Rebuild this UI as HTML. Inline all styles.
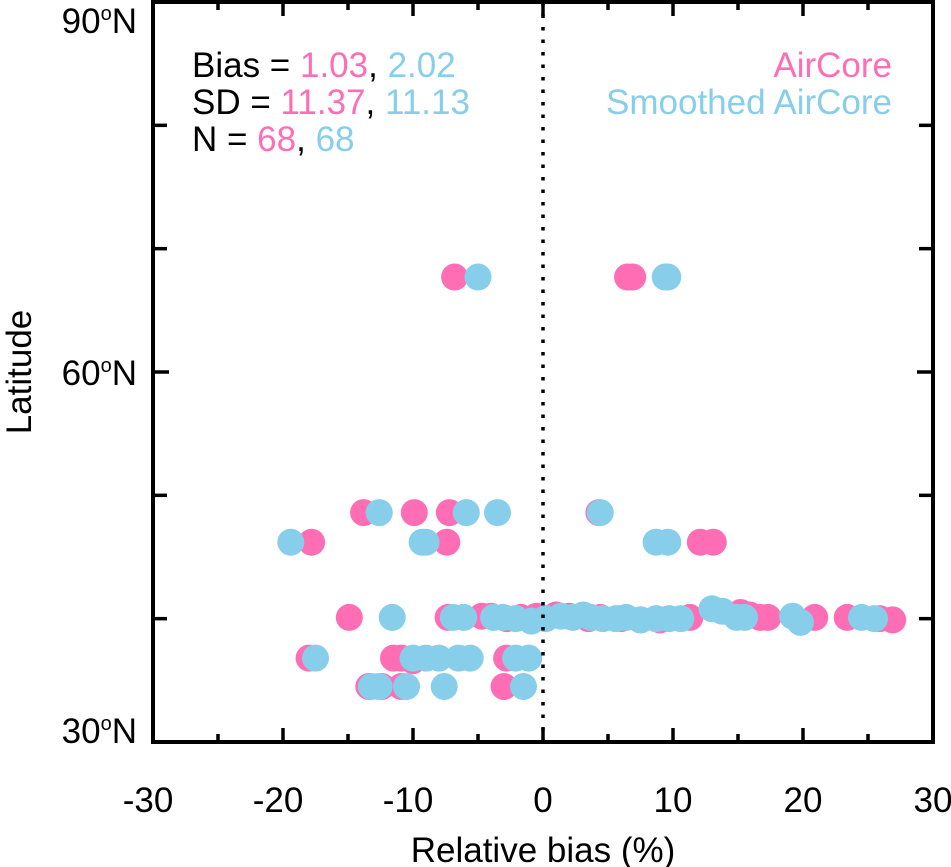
<!DOCTYPE html>
<html><head><meta charset="utf-8"><style>
body{margin:0;background:#fff}
svg{display:block;font-family:"Liberation Sans",sans-serif}
</style></head><body>
<svg id="chart" width="951" height="867" viewBox="0 0 951 867" xmlns="http://www.w3.org/2000/svg">
<g id="marks"></g>
<g id="axes"></g>
<g font-size="35">
<text x="192" y="77">Bias = <tspan fill="#ff6eb4">1.03</tspan>, <tspan fill="#87ceeb">2.02</tspan></text>
<text x="192" y="114">SD = <tspan fill="#ff6eb4">11.37</tspan>, <tspan fill="#87ceeb">11.13</tspan></text>
<text x="192" y="151">N = <tspan fill="#ff6eb4">68</tspan>, <tspan fill="#87ceeb">68</tspan></text>
</g>
<g font-size="35" text-anchor="end">
<text x="892" y="77" fill="#ff6eb4">AirCore</text>
<text x="892" y="114" fill="#87ceeb">Smoothed AirCore</text>
</g>
<text x="543" y="862" font-size="35" text-anchor="middle">Relative bias (%)</text>
<text transform="translate(31,372) rotate(-90)" font-size="35" text-anchor="middle">Latitude</text>
</svg>
<script>
const xTicks=[-30,-20,-10,0,10,20,30];
const yTicks=[30,60,90];
const aircoreBias=[-6.8,6.5,6.9,-13.8,-9.9,-7.2,4.3,-17.8,-7.4,12.1,13.1,-14.9,-7.3,-4.7,-4.0,-2.8,-1.7,-0.5,1.0,2.0,3.5,4.4,6.0,7.5,9.0,11.3,15.2,15.9,16.7,17.3,20.9,23.4,25.9,26.9,-18,-11.5,-10.9,-10.0,-2.8,-13.4,-12.4,-10.9,-3.0];
const aircoreLat=[67.7,67.7,67.7,48.6,48.6,48.6,48.6,46.2,46.2,46.2,46.2,40.1,40.1,40.2,40.2,40.0,40.1,40.2,40.3,40.2,40.0,40.1,40.0,39.9,39.9,40.1,40.5,40.3,40.1,40.1,40.1,40.1,40.0,39.9,36.8,36.8,36.8,36.6,36.8,34.5,34.5,34.5,34.5];
const smoothBias=[-5.0,9.4,9.6,-12.6,-5.9,-3.5,4.4,-19.4,-9.3,-9.0,8.7,9.6,-11.6,-6.9,-6.1,-3.8,-3.1,-2.1,-0.9,0.2,1.4,2.3,3.1,3.7,4.6,5.6,6.4,7.5,8.7,9.7,10.6,13.0,13.8,14.9,15.5,19.2,19.8,24.5,25.5,-17.5,-10.0,-9.0,-8.0,-6.5,-5.6,-2.1,-1.1,-13.2,-12.6,-10.5,-7.6,-1.5];
const smoothLat=[67.7,67.7,67.7,48.6,48.6,48.6,48.6,46.2,46.2,46.2,46.2,46.2,40.1,40.1,40.1,40.1,40.1,40.0,39.8,40.0,40.2,40.1,40.3,40.1,40.0,40.0,40.1,39.9,40.0,40.0,40.0,40.8,40.6,40.1,40.1,40.2,39.7,40.1,40.0,36.8,36.8,36.8,36.8,36.8,36.8,36.8,36.8,34.5,34.5,34.5,34.5,34.5];
const X0=153,X1=933,Y0=742,Y1=2,R=13.5;
const sx=v=>X0+(v+30)/60*(X1-X0);
const sy=v=>Y0-(v-30)/60*(Y0-Y1);
const NS='http://www.w3.org/2000/svg';
const mk=(t,a,p)=>{const e=document.createElementNS(NS,t);for(const k in a)e.setAttribute(k,a[k]);p.appendChild(e);return e;};
const marks=document.getElementById('marks'),axes=document.getElementById('axes');
aircoreBias.forEach((b,i)=>{const c=mk('circle',{cx:sx(b),cy:sy(aircoreLat[i]),r:R,fill:'#ff6eb4'},marks);

});
smoothBias.forEach((b,i)=>{const c=mk('circle',{cx:sx(b),cy:sy(smoothLat[i]),r:R,fill:'#87ceeb'},marks);

});
const zl=mk('line',{x1:sx(0),x2:sx(0),y1:Y1,y2:Y0,stroke:'#000','stroke-width':3.5,'stroke-dasharray':'3.5 9'},axes);


const box=mk('rect',{x:X0,y:Y1,width:X1-X0,height:Y0-Y1,fill:'none',stroke:'#000','stroke-width':4},axes);


for(let v=-30;v<=30;v+=5){const L=v%10===0?14:8;const x=sx(v);
mk('line',{x1:x,x2:x,y1:Y0,y2:Y0-L,stroke:'#000','stroke-width':3.5},axes);
mk('line',{x1:x,x2:x,y1:Y1,y2:Y1+L,stroke:'#000','stroke-width':3.5},axes);}
for(let v=30;v<=90;v+=10){const L=v%30===0?16:14;const y=sy(v);
mk('line',{x1:X0,x2:X0+L,y1:y,y2:y,stroke:'#000','stroke-width':3.5},axes);
mk('line',{x1:X1,x2:X1-L,y1:y,y2:y,stroke:'#000','stroke-width':3.5},axes);}
xTicks.forEach(v=>{const t=mk('text',{x:sx(v)-(v<0?5:0),y:812,'font-size':35,'text-anchor':'middle'},axes);t.textContent=String(v);

});
yTicks.forEach((v,i)=>{const y=sy(v);const by=i===0?y+1:(i===yTicks.length-1?y+31:y+13);
const t=mk('text',{x:137,y:by,'font-size':35,'text-anchor':'end'},axes);
t.innerHTML=v+'<tspan dy="-13" font-size="20">o</tspan><tspan dy="13">N</tspan>';

});
</script>
</body></html>
